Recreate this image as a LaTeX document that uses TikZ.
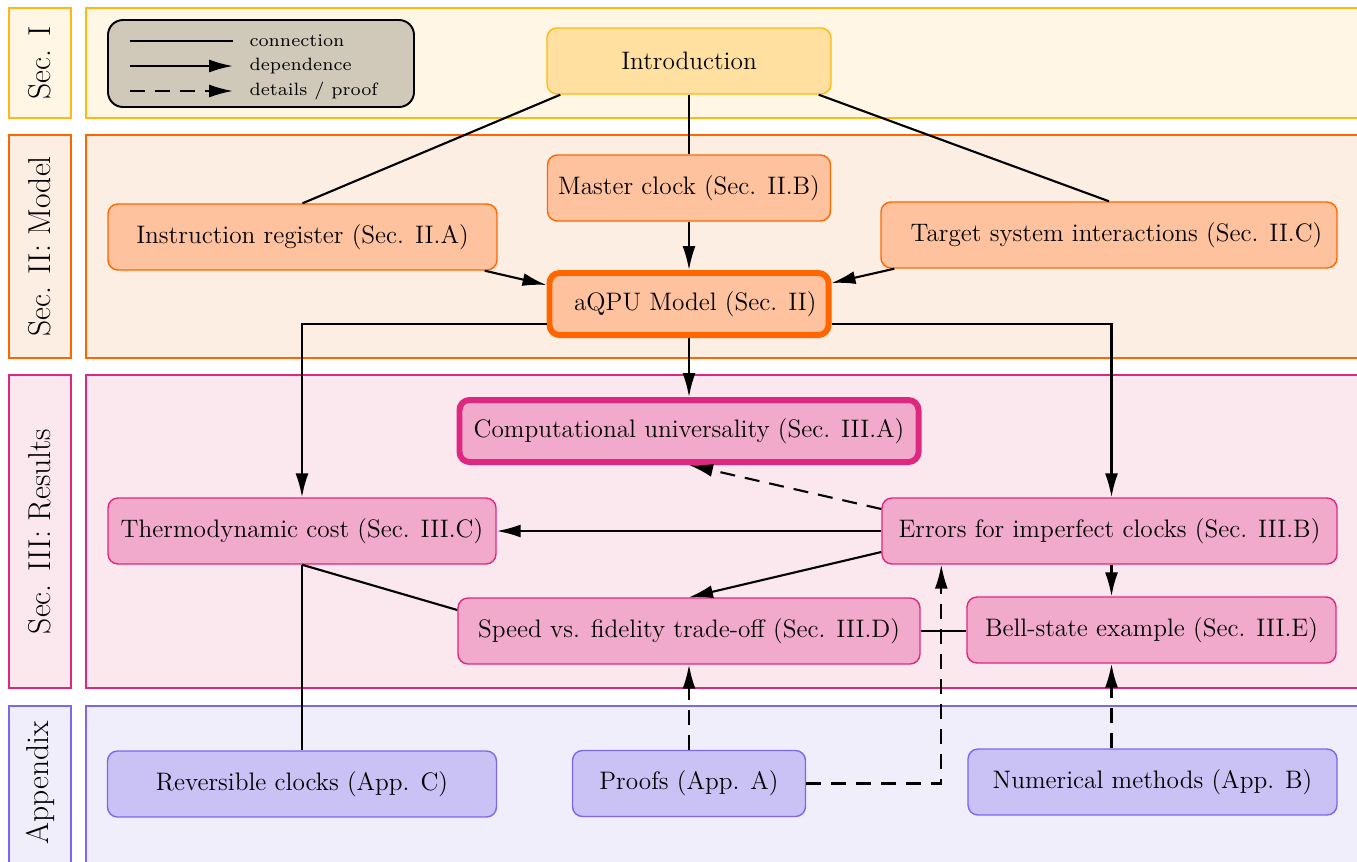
\documentclass[tikz,border=0pt]{standalone}
\usepackage{tikz}
\usetikzlibrary{arrows.meta,calc}

\definecolor{introline}{RGB}{255,185,15}
\definecolor{introband}{RGB}{255,246,229}
\definecolor{introfill}{RGB}{255,224,160}
\definecolor{modelline}{RGB}{255,102,0}
\definecolor{modelband}{RGB}{253,238,228}
\definecolor{modelfill}{RGB}{255,194,158}
\definecolor{resline}{RGB}{222,40,128}
\definecolor{resband}{RGB}{251,232,239}
\definecolor{resfill}{RGB}{242,170,204}
\definecolor{appline}{RGB}{123,104,238}
\definecolor{appband}{RGB}{240,238,250}
\definecolor{appfill}{RGB}{202,194,245}
\definecolor{legfill}{RGB}{208,200,184}

\tikzset{
	band/.style={line width=0.8pt},
	seclabel/.style={rotate=90, inner sep=0pt, font=\fontsize{18}{21}\selectfont},
	box/.style={draw, rounded corners=0.2cm, line width=0.8pt, minimum height=1.32cm, inner sep=0pt, font=\fontsize{14.39}{17}\selectfont},
	bigbox/.style={box, line width=3.4pt, minimum height=1.24cm},
	introbox/.style={box, draw=introline, fill=introfill},
	modelbox/.style={box, draw=modelline, fill=modelfill},
	resbox/.style={box, draw=resline, fill=resfill},
	appbox/.style={box, draw=appline, fill=appfill},
	legtext/.style={anchor=west, xshift=0.3cm, inner sep=0pt, scale=1.45, font=\fontsize{7}{8}\selectfont},
	conn/.style={line width=1.2pt},
	dep/.style={conn, -{Latex[length=4.8mm,width=2.6mm]}},
	proof/.style={dep, dash pattern=on 0.3cm off 0.2cm},
}

\begin{document}
\begin{tikzpicture}
		%%%%% START %%%%%
		\useasboundingbox (0,0) rectangle (27.14,-17.22);
		
		% section bands
		\draw[band, draw=introline, fill=introband] (0.18,-0.16) rectangle (1.42,-2.36);
		\draw[band, draw=introline, fill=introband] (1.72,-0.16) rectangle (28,-2.36);
		\draw[band, draw=modelline, fill=modelband] (0.18,-2.70) rectangle (1.42,-7.16);
		\draw[band, draw=modelline, fill=modelband] (1.72,-2.70) rectangle (28,-7.16);
		\draw[band, draw=resline, fill=resband] (0.18,-7.50) rectangle (1.42,-13.76);
		\draw[band, draw=resline, fill=resband] (1.72,-7.50) rectangle (28,-13.76);
		\draw[band, draw=appline, fill=appband] (0.18,-14.12) rectangle (1.42,-18);
		\draw[band, draw=appline, fill=appband] (1.72,-14.12) rectangle (28,-18);
		
		\node[seclabel] (lblI) at (0.8,-1.26) {Sec. I};
		\node[seclabel] (lblII) at (0.8,-4.93) {Sec. II: Model};
		\node[seclabel] (lblIII) at (0.8,-10.63) {Sec. III: Results};
		\node[seclabel] (lblapp) at (0.8,-15.65) {Appendix};
		
		% legend
		\node[draw, fill=legfill, rounded corners=0.3cm, line width=1.1pt, minimum width=6.12cm, minimum height=1.74cm] (legend) at (5.22,-1.27) {};
		\draw[conn] (2.6,-0.82) -- (4.66,-0.82) node[legtext] (legconn) {connection};
		\draw[dep] (2.6,-1.32) -- (4.66,-1.32) node[legtext] (legdep) {dependence};
		\draw[proof] (2.6,-1.82) -- (4.66,-1.82) node[legtext] (legproof) {details / proof};
		
		% nodes
		\node[introbox, minimum width=5.68cm] (intro) at (13.78,-1.22) {Introduction};
		
		\node[modelbox, minimum width=5.66cm] (master) at (13.78,-3.76) {Master clock (Sec. II.B)};
		\node[modelbox, minimum width=7.78cm] (instr) at (6.05,-4.74) {Instruction register (Sec. II.A)};
		\node[modelbox, minimum width=9.12cm] (target) at (22.18,-4.70) {\hspace{0.3cm}Target system interactions (Sec. II.C)};
		\node[modelbox, bigbox, minimum width=5.58cm] (aqpu) at (13.78,-6.08) {\hspace{0.25cm}aQPU Model (Sec. II)};
		
		\node[resbox, bigbox, minimum width=9.18cm] (comp) at (13.78,-8.62) {Computational universality (Sec. III.A)};
		\node[resbox, minimum width=7.76cm] (thermo) at (6.04,-10.62) {Thermodynamic cost (Sec. III.C)};
		\node[resbox, minimum width=9.10cm] (errors) at (22.19,-10.62) {Errors for imperfect clocks (Sec. III.B)};
		\node[resbox, minimum width=9.24cm] (speed) at (13.78,-12.62) {Speed vs. fidelity trade-off (Sec. III.D)};
		\node[resbox, minimum width=7.38cm] (bell) at (23.03,-12.60) {Bell-state example (Sec. III.E)};
		
		\node[appbox, minimum width=7.78cm] (rev) at (6.04,-15.68) {Reversible clocks (App. C)};
		\node[appbox, minimum width=4.66cm] (proofs) at (13.78,-15.67) {Proofs (App. A)};
		\node[appbox, minimum width=7.38cm] (numer) at (23.05,-15.64) {Numerical methods (App. B)};
		
		% connections
		\draw[conn] ([xshift=0.28cm]intro.south west) -- (instr.north);
		\draw[conn] (intro.south) -- (master.north);
		\draw[conn] ([xshift=-0.26cm]intro.south east) -- (target.north);
		\draw[dep] (master.south) -- (aqpu.north);
		\draw[dep] ([xshift=-0.26cm]instr.south east) -- ([yshift=0.38cm]aqpu.west);
		\draw[dep] ([xshift=0.28cm]target.south west) -- ([yshift=0.42cm]aqpu.east);
		\draw[dep] ([yshift=-0.4cm]aqpu.west) -| (thermo.north);
		\draw[dep] ([yshift=-0.4cm]aqpu.east) -| ([xshift=0.04cm]errors.north);
		\draw[dep] (aqpu.south) -- (comp.north);
		
		\draw[proof] ([yshift=0.44cm]errors.west) -- (comp.south);
		\draw[dep] (errors.west) -- (thermo.east);
		\draw[dep] ([yshift=-0.42cm]errors.west) -- (speed.north);
		\draw[dep] ([xshift=0.04cm]errors.south) -- ([xshift=0.04cm]errors.south |- bell.north);
		\draw[conn] (speed.east) -- (speed.east -| bell.west);
		\draw[conn] (thermo.south) -- ([yshift=0.42cm]speed.west);
		\draw[conn] (thermo.south) -- (thermo.south |- rev.north);
		
		\draw[proof] (proofs.north) -- (speed.south);
		\draw[proof] (proofs.east) -| ([xshift=1.2cm]errors.south west);
		\draw[proof] ([xshift=0.04cm]errors.south |- numer.north) -- ([xshift=0.04cm]errors.south |- bell.south);
		
		%%%%% END %%%%%
\end{tikzpicture}
\end{document}
